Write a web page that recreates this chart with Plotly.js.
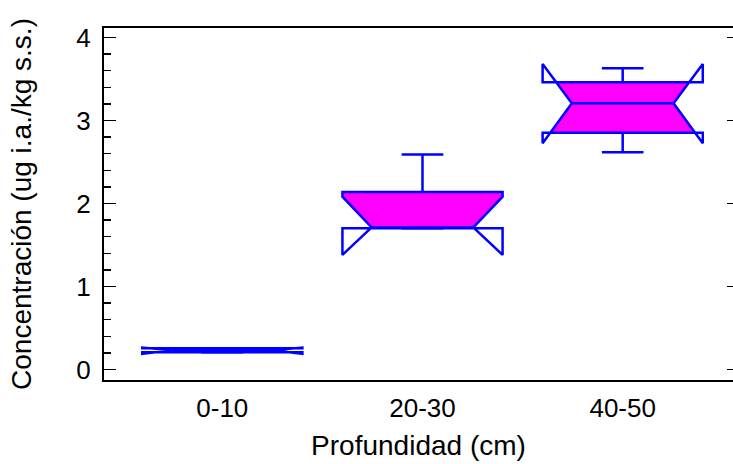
<!DOCTYPE html>
<html>
<head>
<meta charset="utf-8">
<script src="https://cdn.plot.ly/plotly-3.0.1.min.js"></script>
<style>html,body{margin:0;padding:0;background:#fff;}</style>
</head>
<body>
<div id="chart" style="width:733px;height:464px;"></div>
<script>
// ---- data ----
const categories   = ['0-10', '20-30', '40-50'];
const lowerWhisker = [0.207, 1.701, 2.617];
const q1           = [0.207, 1.701, 2.853];
const median       = [0.231, 1.711, 3.207];
const q3           = [0.255, 2.139, 3.460];
const upperWhisker = [0.255, 2.590, 3.629];
const notchLow     = [0.187, 1.380, 2.725];
const notchHigh    = [0.263, 2.082, 3.681];
const yTickVals    = [0, 1, 2, 3, 4];

// ---- style ----
const boxHalf = 0.4, notchHalf = 0.254, capHalf = 0.104;
const lineColor = '#0000FF', fillColor = '#FF00FF';

function edgeX(i, y, side) {
  const m = median[i];
  const d = y >= m ? (notchHigh[i] - m) : (m - notchLow[i]);
  const t = d > 0 ? Math.min(Math.abs(y - m) / d, 1) : 1;
  return i + side * (notchHalf + (boxHalf - notchHalf) * t);
}

const traces = [];
categories.forEach((cat, i) => {
  // filled region: box clipped by the notch
  const ys = [q3[i], notchHigh[i], median[i], notchLow[i], q1[i]]
    .filter(y => y >= q1[i] && y <= q3[i])
    .sort((a, b) => b - a);
  const fx = [], fy = [];
  ys.forEach(y => { fx.push(edgeX(i, y, 1)); fy.push(y); });
  ys.slice().reverse().forEach(y => { fx.push(edgeX(i, y, -1)); fy.push(y); });
  traces.push({
    type: 'scatter', mode: 'lines', x: fx, y: fy, fill: 'toself',
    fillcolor: fillColor, line: {width: 0, color: fillColor},
    hoverinfo: 'skip', showlegend: false
  });
  // outline (notched box path), median, whiskers
  const c = i, L = c - boxHalf, R = c + boxHalf, nL = c - notchHalf, nR = c + notchHalf;
  const ox = [nL, L, L, R, R, nR, R, R, L, L, nL, null,
              nL, nR, null,
              c, c, null, c - capHalf, c + capHalf, null,
              c, c, null, c - capHalf, c + capHalf];
  const oy = [median[i], notchLow[i], q1[i], q1[i], notchLow[i], median[i], notchHigh[i], q3[i], q3[i], notchHigh[i], median[i], null,
              median[i], median[i], null,
              q3[i], upperWhisker[i], null, upperWhisker[i], upperWhisker[i], null,
              q1[i], lowerWhisker[i], null, lowerWhisker[i], lowerWhisker[i]];
  traces.push({
    type: 'scatter', mode: 'lines', x: ox, y: oy,
    line: {color: lineColor, width: 2.5}, connectgaps: false,
    hoverinfo: 'skip', showlegend: false
  });
});
// helper trace for the right-hand mirrored axis
traces.push({type: 'scatter', mode: 'markers', x: [0], y: [0], yaxis: 'y2',
  marker: {opacity: 0}, hoverinfo: 'skip', showlegend: false});

const font = {family: 'Liberation Sans, Arial, sans-serif', color: '#000'};
const layout = {
  width: 733, height: 464,
  margin: {l: 104, r: 0, t: 28, b: 84},
  paper_bgcolor: '#fff', plot_bgcolor: '#fff',
  showlegend: false,
  font: Object.assign({size: 26}, font),
  xaxis: {
    range: [-0.591, 2.551],
    tickvals: [0, 1, 2], ticktext: categories,
    ticks: '', showgrid: false, zeroline: false,
    showline: true, mirror: true, linecolor: '#000', linewidth: 2,
    tickfont: Object.assign({size: 26}, font),
    ticklabelstandoff: 4,
    title: {text: 'Profundidad (cm)', font: Object.assign({size: 28}, font), standoff: 13}
  },
  yaxis: {
    range: [-0.127, 4.114],
    tickvals: yTickVals,
    ticks: 'inside', ticklen: 12, tickwidth: 1.5, tickcolor: '#000',
    minor: {dtick: 0.2, ticks: 'inside', ticklen: 7, tickwidth: 1.5, tickcolor: '#000', showgrid: false},
    showgrid: false, zeroline: false,
    showline: true, mirror: true, linecolor: '#000', linewidth: 2,
    tickfont: Object.assign({size: 26}, font),
    ticklabelstandoff: 6,
    title: {text: 'Concentración (ug i.a./kg s.s.)', font: Object.assign({size: 28}, font), standoff: 37}
  },
  yaxis2: {
    overlaying: 'y', side: 'right', matches: 'y',
    tickvals: yTickVals, ticks: 'inside', ticklen: 6, tickwidth: 1.5, tickcolor: '#000',
    showticklabels: false, showline: false, showgrid: false, zeroline: false
  }
};
Plotly.newPlot('chart', traces, layout, {displayModeBar: false, staticPlot: true});
</script>
</body>
</html>
